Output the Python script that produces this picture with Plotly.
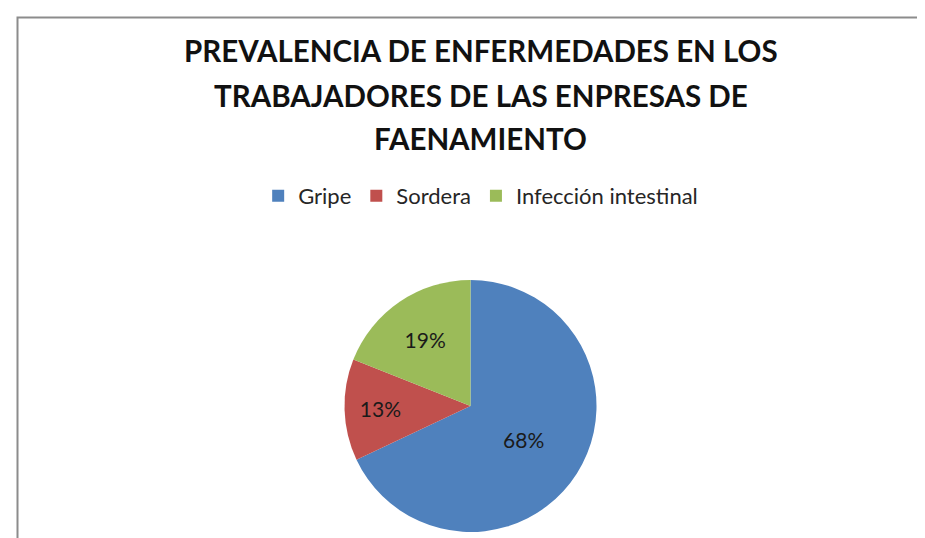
import plotly.graph_objects as go

categories = ["Gripe", "Sordera", "Infección intestinal"]
values = [68, 13, 19]
colors = ["#4F81BD", "#C0504D", "#9BBB59"]
title_lines = ["PREVALENCIA DE ENFERMEDADES EN LOS",
               "TRABAJADORES DE LAS ENPRESAS DE",
               "FAENAMIENTO"]

W, H = 925, 538

fig = go.Figure(go.Pie(
    labels=categories,
    values=values,
    marker=dict(colors=colors, line=dict(width=0)),
    sort=False,
    direction="clockwise",
    rotation=0,
    textinfo="percent",
    textposition="inside",
    insidetextorientation="horizontal",
    textfont=dict(family="Lato, Open Sans, sans-serif", size=21, color="#1a1a1a"),
    domain=dict(x=[0.15, 0.85], y=[1 - 524 / H, 1 - 272 / H]),
    hoverinfo="label+percent",
))

title_y = [42, 87, 131]
for txt, yy in zip(title_lines, title_y):
    fig.add_annotation(
        text="<b>" + txt + "</b>", x=0.511, y=1 - yy / H, xref="paper", yref="paper",
        showarrow=False, xanchor="center", yanchor="middle",
        font=dict(family="Lato, Open Sans, sans-serif", size=29.5, color="#111111"),
    )

fig.add_shape(type="rect", xref="paper", yref="paper",
              x0=9.5 / W, x1=1.02, y0=-0.05, y1=1 - 9.5 / H,
              line=dict(color="#8c8c8c", width=2), layer="below")

fig.update_layout(
    width=W, height=H,
    margin=dict(l=0, r=0, t=0, b=0),
    paper_bgcolor="white",
    plot_bgcolor="white",
    showlegend=True,
    legend=dict(orientation="h", x=0.511, xanchor="center", y=1 - 188 / H, yanchor="middle",
                font=dict(family="Lato, Open Sans, sans-serif", size=22, color="#262626"),
                itemwidth=30, traceorder="normal"),
)

fig.write_html("out.html")
